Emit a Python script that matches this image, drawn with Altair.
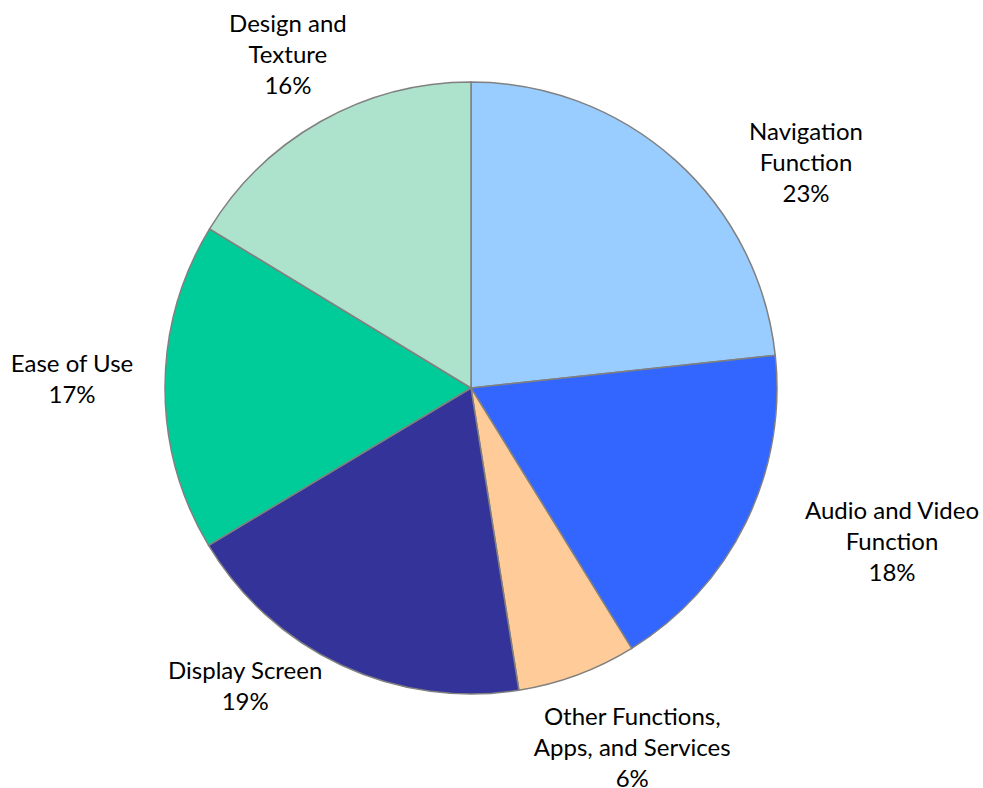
import altair as alt
import pandas as pd

categories = ["Navigation Function", "Audio and Video Function",
              "Other Functions, Apps, and Services", "Display Screen",
              "Ease of Use", "Design and Texture"]
label_lines = ["Navigation|Function", "Audio and Video|Function",
               "Other Functions,|Apps, and Services", "Display Screen",
               "Ease of Use", "Design and|Texture"]
values = [23.3, 17.9, 6.3, 18.9, 17.3, 16.3]
colors = ["#99CCFF", "#3366FF", "#FFCC99", "#333399", "#00CC99", "#ADE3CC"]

# label nudges (pixels) away from the slice mid-angle anchor
nudges = {
    "Navigation Function": (73, 37),
    "Audio and Video Function": (69, -48),
    "Other Functions, Apps, and Services": (25, -38),
    "Display Screen": (-60, -71),
    "Ease of Use": (-7, -22),
    "Design and Texture": (9, -21),
}

df = pd.DataFrame({
    "category": categories,
    "label": label_lines,
    "value": values,
    "order": list(range(len(categories))),
})

base = alt.Chart(df).encode(
    theta=alt.Theta("value:Q", stack=True),
    order=alt.Order("order:Q"),
)

pie = base.mark_arc(outerRadius=306, stroke="#808080", strokeWidth=1.5).encode(
    color=alt.Color("category:N", scale=alt.Scale(domain=categories, range=colors), legend=None)
)

layers = [pie]
for cat in categories:
    dx, dy = nudges[cat]
    t = base.transform_calculate(
        txt="datum.label + '|' + format(datum.value, '.0f') + '%'"
    ).mark_text(
        radius=392, dx=dx, dy=dy, font="Lato", fontSize=24, lineBreak="|", lineHeight=31,
        align="center", baseline="middle", color="#000000"
    ).encode(
        text=alt.condition(alt.datum.category == cat, alt.Text("txt:N"), alt.value(""))
    )
    layers.append(t)

chart = alt.layer(*layers).properties(
    width=942, height=776,
    padding={"left": 0, "top": 0, "right": 41, "bottom": 12},
    autosize="none",
).configure_view(stroke=None)

chart.save("out.html", embed_options={"renderer": "svg", "actions": False})
